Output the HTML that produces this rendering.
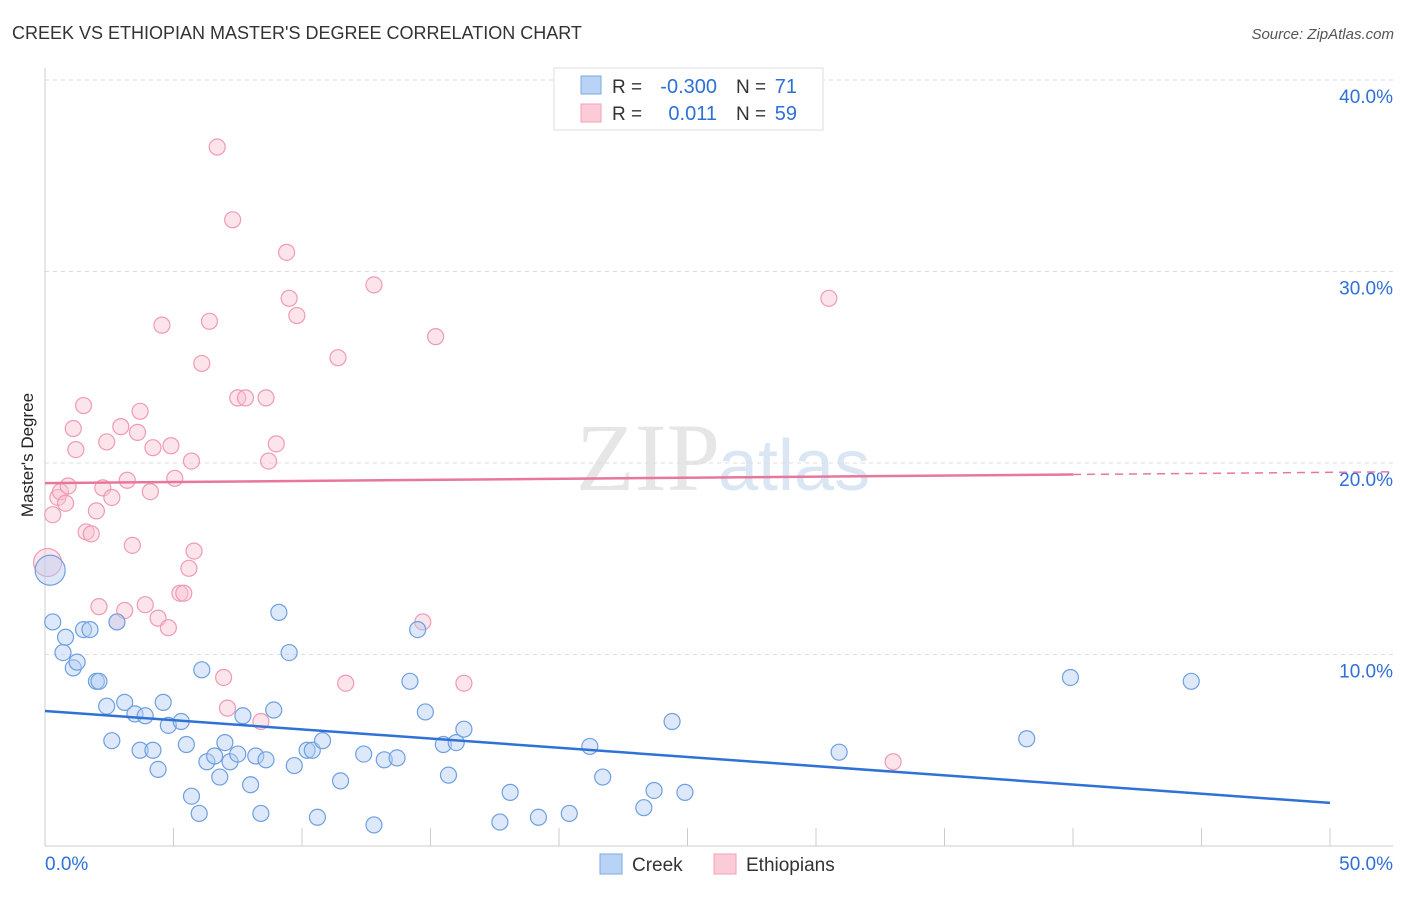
<!DOCTYPE html>
<html><head><meta charset="utf-8"><style>
body{margin:0;background:#fff;font-family:"Liberation Sans",sans-serif}
</style></head><body>
<svg id="c" width="1406" height="892" xmlns="http://www.w3.org/2000/svg">
<text x="12" y="39" font-size="18" fill="#333">CREEK VS ETHIOPIAN MASTER'S DEGREE CORRELATION CHART</text>
<text x="1394" y="39" font-size="15" fill="#555" font-style="italic" text-anchor="end">Source: ZipAtlas.com</text>
<text x="720" y="490" font-size="96" fill="#e6e6e6" text-anchor="end" font-family="Liberation Serif,serif">ZIP</text>
<text x="718" y="490" font-size="72" fill="#dbe6f5">atlas</text>
<g id="grid"></g>
<g id="pts"></g>
<g id="trend"></g>
<text x="33" y="455" font-size="17" fill="#222" text-anchor="middle" transform="rotate(-90 33 455)">Master's Degree</text>
<g>
<rect x="554" y="68" width="269" height="62" fill="#fff" stroke="#ddd"/>
<rect x="581" y="76" width="20" height="18" fill="#b8d3f5" stroke="#7fa8e0"/>
<rect x="581" y="104" width="20" height="18" fill="#fbcbd8" stroke="#efa0b8"/>
<text x="612" y="93" font-size="19" fill="#333">R =</text>
<text x="717" y="93" font-size="20" fill="#2f6fd8" text-anchor="end">-0.300</text>
<text x="736" y="93" font-size="19" fill="#333">N =</text>
<text x="797" y="93" font-size="20" fill="#2f6fd8" text-anchor="end">71</text>
<text x="612" y="120" font-size="19" fill="#333">R =</text>
<text x="717" y="120" font-size="20" fill="#2f6fd8" text-anchor="end">0.011</text>
<text x="736" y="120" font-size="19" fill="#333">N =</text>
<text x="797" y="120" font-size="20" fill="#2f6fd8" text-anchor="end">59</text>
</g>
<g>
<rect x="600" y="854" width="22" height="20" fill="#b8d3f5" stroke="#7fa8e0"/>
<text x="632" y="871" font-size="19" fill="#333">Creek</text>
<rect x="714" y="854" width="22" height="20" fill="#fbcbd8" stroke="#efa0b8"/>
<text x="746" y="871" font-size="19" fill="#333">Ethiopians</text>
</g>
</svg>
<script>
const yTicks=[10,20,30,40];
const xTickLabels=["0.0%","50.0%"];
const creekX=[0.2,0.3,0.8,0.7,1.1,1.25,1.5,1.75,2.0,2.1,2.4,2.6,2.8,3.1,3.5,3.9,3.7,4.2,4.4,4.6,4.8,5.3,5.5,5.7,6.0,6.1,6.3,6.6,6.8,7.0,7.2,7.5,7.7,8.0,8.2,8.4,8.6,8.9,9.1,9.5,9.7,10.2,10.4,10.6,10.8,11.5,12.4,12.8,13.2,13.7,14.2,14.5,14.8,15.5,15.7,16.0,16.3,17.7,18.1,19.2,20.4,21.2,21.7,23.3,23.7,24.4,24.9,30.9,38.2,39.9,44.6];
const creekY=[14.4,11.7,10.9,10.1,9.3,9.6,11.3,11.3,8.6,8.6,7.3,5.5,11.7,7.5,6.9,6.8,5.0,5.0,4.0,7.5,6.3,6.5,5.3,2.6,1.7,9.2,4.4,4.7,3.6,5.4,4.4,4.8,6.8,3.2,4.7,1.7,4.5,7.1,12.2,10.1,4.2,5.0,5.0,1.5,5.5,3.4,4.8,1.1,4.5,4.6,8.6,11.3,7.0,5.3,3.7,5.4,6.1,1.25,2.8,1.5,1.7,5.2,3.6,2.0,2.9,6.5,2.8,4.9,5.6,8.8,8.6];
const ethX=[0.1,0.3,0.5,0.6,0.8,0.9,1.1,1.2,1.5,1.6,1.8,2.0,2.1,2.25,2.4,2.6,2.8,2.95,3.1,3.2,3.4,3.6,3.7,3.9,4.1,4.2,4.4,4.55,4.8,4.9,5.05,5.25,5.4,5.6,5.7,5.8,6.1,6.4,6.7,6.95,7.1,7.3,7.5,7.8,8.4,8.6,8.7,9.0,9.4,9.5,9.8,11.4,11.7,12.8,14.7,15.2,16.3,30.5,33.0];
const ethY=[14.8,17.3,18.2,18.5,17.9,18.8,21.8,20.7,23.0,16.4,16.3,17.5,12.5,18.7,21.1,18.2,11.7,21.9,12.3,19.1,15.7,21.6,22.7,12.6,18.5,20.8,11.9,27.2,11.4,20.9,19.2,13.2,13.2,14.5,20.1,15.4,25.2,27.4,36.5,8.8,7.2,32.7,23.4,23.4,6.5,23.4,20.1,21.0,31.0,28.6,27.7,25.5,8.5,29.3,11.7,26.6,8.5,28.6,4.4];
const creekTrend=[7.05,2.25];
const ethTrend=[18.95,19.4];
const NS="http://www.w3.org/2000/svg";
const sx=v=>45+v*25.7, sy=v=>846-v*19.15;
function mk(t,a,p){const e=document.createElementNS(NS,t);for(const k in a)e.setAttribute(k,a[k]);p.appendChild(e);return e;}
const g=document.getElementById('grid');
yTicks.forEach(t=>{
 const l=mk('line',{x1:45,x2:1393,y1:sy(t),y2:sy(t),stroke:'#ddd','stroke-dasharray':'4,4'},g);
 
 
 const tx=mk('text',{x:1393,y:sy(t)+23,'font-size':19,fill:'#2f6fd8','text-anchor':'end'},g);
 tx.textContent=t.toFixed(1)+'%';
 
 
});
const ax=mk('line',{x1:45,x2:1393,y1:846,y2:846,stroke:'#ccc'},g);


const ay=mk('line',{x1:45,x2:45,y1:68,y2:846,stroke:'#ccc'},g);


for(let i=0;i<=10;i++){const t=mk('line',{x1:sx(i*5),x2:sx(i*5),y1:828,y2:846,stroke:'#ccc'},g);
 
 }
[[0,'start',45],[50,'end',1393]].forEach((d,i)=>{const t=mk('text',{x:d[2],y:870,'font-size':19,fill:'#2f6fd8','text-anchor':d[1]},g);
 t.textContent=xTickLabels[i];
 
 });
const p=document.getElementById('pts');
function dots(X,Y,fill,stroke,name){X.forEach((x,i)=>{const r=i===0&&x<0.5?(name==='creek'?15:14):8;
 const c=mk('circle',{cx:sx(x),cy:sy(Y[i]),r:r,fill:fill,'fill-opacity':0.45,stroke:stroke,'stroke-width':1.2},p);
 
 });}
dots(ethX,ethY,'#f9c4d3','#ef9ab4','ethiopians');
dots(creekX,creekY,'#b3cff3','#6e9fe0','creek');
const tr=document.getElementById('trend');
const b=mk('line',{x1:sx(0),y1:sy(creekTrend[0]),x2:sx(50),y2:sy(creekTrend[1]),stroke:'#2f72d6','stroke-width':2.5},tr);


const es=(ethTrend[1]-ethTrend[0])/40;
const e1=mk('line',{x1:sx(0),y1:sy(ethTrend[0]),x2:sx(40),y2:sy(ethTrend[1]),stroke:'#e8779c','stroke-width':2.5},tr);


const e2=mk('line',{x1:sx(40),y1:sy(ethTrend[1]),x2:sx(52.5),y2:sy(ethTrend[1]+es*12.5),stroke:'#e8779c','stroke-width':1.5,'stroke-dasharray':'8,6'},tr);


</script>
</body></html>
